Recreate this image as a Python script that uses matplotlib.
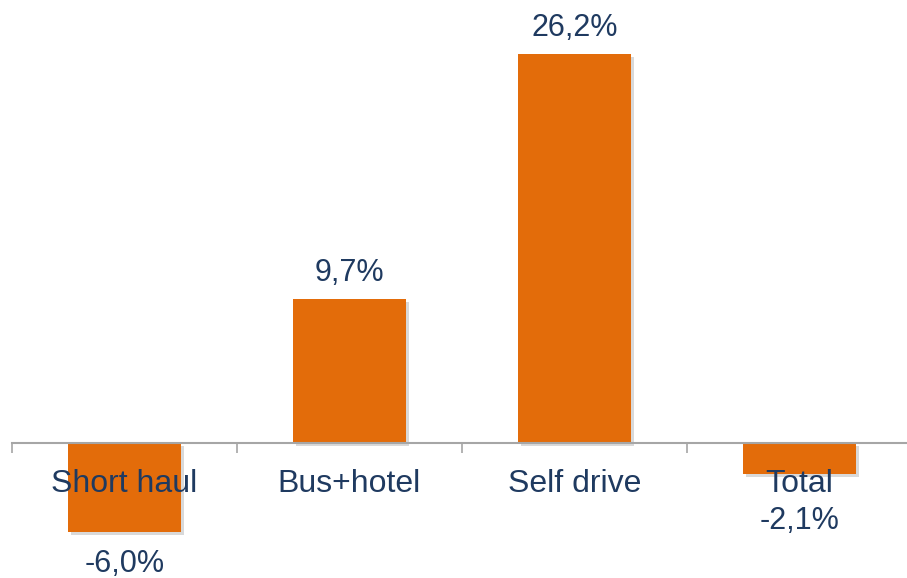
import matplotlib.pyplot as plt
import matplotlib.patheffects as pe

# Data
categories = ["Short haul", "Bus+hotel", "Self drive", "Total"]
values = [-6.0, 9.7, 26.2, -2.1]
value_labels = ["-6,0%", "9,7%", "26,2%", "-2,1%"]

bar_color = "#E36C0A"
text_color = "#1F3A60"
axis_color = "#A6A6A6"

plt.rcParams["font.family"] = ["Liberation Sans", "DejaVu Sans"]

fig = plt.figure(figsize=(9.07, 5.78), dpi=100)
ax = fig.add_axes([12 / 907, 0, 900 / 907, 1])

x = list(range(len(categories)))
bars = ax.bar(x, values, width=0.5, color=bar_color, zorder=1)
for b in bars:
    b.set_path_effects([pe.SimplePatchShadow(offset=(2, -2), shadow_rgbFace="black", alpha=0.15),
                        pe.Normal()])

ax.set_xlim(-0.5, 3.5)
ax.set_ylim(-9.09, 29.83)

# value labels (Total is pushed below its category label)
offsets = [-23, 19, 19, -34]
for xi, v, lab, off in zip(x, values, value_labels, offsets):
    ax.annotate(lab, (xi, v), xytext=(0, off), textcoords="offset points",
                ha="center", va="center", fontsize=22, color=text_color, zorder=4)

# axis styling
for s in ["top", "right", "left"]:
    ax.spines[s].set_visible(False)
ax.spines["bottom"].set_position(("data", 0))
ax.spines["bottom"].set_color(axis_color)
ax.spines["bottom"].set_linewidth(1.5)
ax.set_yticks([])
ax.set_xticks(x)
ax.set_xticklabels(categories, fontsize=23, color=text_color)
ax.tick_params(axis="x", which="major", length=0, pad=18.5)
ax.set_xticks([i - 0.5 for i in range(len(categories) + 1)], minor=True)
ax.tick_params(axis="x", which="minor", length=7, width=1.2, color=axis_color, direction="out")
for t in ax.get_xticklabels():
    t.set_zorder(3)

fig.savefig("out.png", dpi=100)
